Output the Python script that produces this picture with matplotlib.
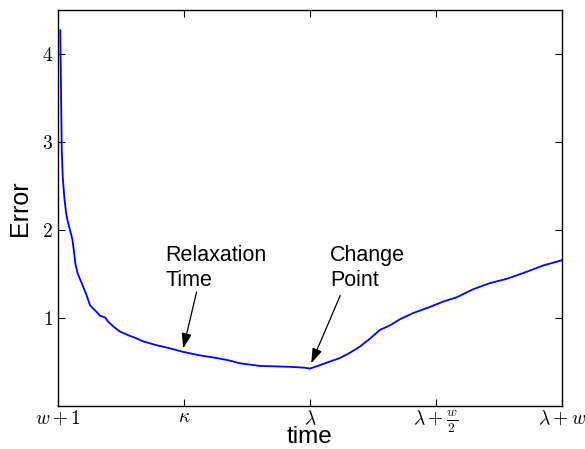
import matplotlib
matplotlib.use("Agg")
import matplotlib.pyplot as plt

plt.rcParams["mathtext.fontset"] = "cm"
plt.rcParams["font.family"] = ["Liberation Sans", "DejaVu Sans"]

# error trace over the sliding window (time index 0..200)
time = [0.9, 1.2, 1.5, 1.9, 2.5, 3.2, 3.8, 4.8, 5.7, 6.3, 6.9, 7.8, 9.4, 11.4,
        12.7, 14.0, 15.4, 16.7, 18.7, 20.0, 22.3, 24.6, 28.6, 30.6, 33.7, 38.5,
        44.4, 49.6, 56.3, 63.0, 68.3, 72.2, 80.2, 92.1, 98.0, 100.0, 104.0,
        107.9, 111.9, 115.9, 119.8, 123.8, 127.8, 131.7, 135.7, 140.9, 147.6,
        152.8, 158.3, 164.7, 171.4, 178.2, 186.1, 192.5, 200.0]
error = [4.27, 3.6, 2.9, 2.6, 2.38, 2.2, 2.11, 2.0, 1.90, 1.77, 1.62, 1.51,
         1.40, 1.26, 1.15, 1.11, 1.07, 1.03, 1.01, 0.96, 0.90, 0.85, 0.80, 0.78,
         0.74, 0.70, 0.66, 0.62, 0.58, 0.55, 0.52, 0.49, 0.46, 0.45, 0.44, 0.43,
         0.47, 0.51, 0.55, 0.61, 0.68, 0.77, 0.87, 0.92, 0.99, 1.06, 1.13, 1.19,
         1.24, 1.33, 1.40, 1.45, 1.53, 1.60, 1.66]

x_ticks = [0, 50, 100, 150, 200]
x_tick_labels = [r"$w+1$", r"$\kappa$", r"$\lambda$", r"$\lambda+\frac{w}{2}$", r"$\lambda+w$"]
y_ticks = [1, 2, 3, 4]
y_tick_labels = [r"$1$", r"$2$", r"$3$", r"$4$"]

fig = plt.figure(figsize=(5.85, 4.49), dpi=100)
ax = fig.add_axes([0.0991, 0.0947, 0.8616, 0.883])

ax.plot(time, error, color="#0000ff", linewidth=1.3)

ax.set_xlim(0, 200)
ax.set_ylim(0, 4.5)
ax.set_xticks(x_ticks)
ax.set_xticklabels(x_tick_labels, fontsize=14)
ax.set_yticks(y_ticks)
ax.set_yticklabels(y_tick_labels, fontsize=14)
ax.tick_params(direction="in", top=True, right=True, length=5, width=0.8)
ax.tick_params(axis="x", pad=2)
for s in ax.spines.values():
    s.set_linewidth(1.0)

ax.set_xlabel("time", fontsize=17.5, va="baseline")
ax.xaxis.set_label_coords(0.5, -0.093)
ax.set_ylabel("Error", fontsize=18, labelpad=7)

arrow = dict(arrowstyle="-|>,head_length=0.9,head_width=0.3", color="black",
             linewidth=0.9, shrinkA=0, shrinkB=0)
ax.annotate("", xy=(49.7, 0.66), xytext=(55.0, 1.30), arrowprops=arrow)
ax.annotate("", xy=(100.5, 0.49), xytext=(112.0, 1.26), arrowprops=arrow)

ax.text(42.5, 1.57, "Relaxation\nTime", fontsize=15.5, ha="left", va="center",
        linespacing=1.25)
ax.text(107.9, 1.57, "Change\nPoint", fontsize=15.5, ha="left", va="center",
        linespacing=1.25)

fig.savefig("out.png", dpi=100)
